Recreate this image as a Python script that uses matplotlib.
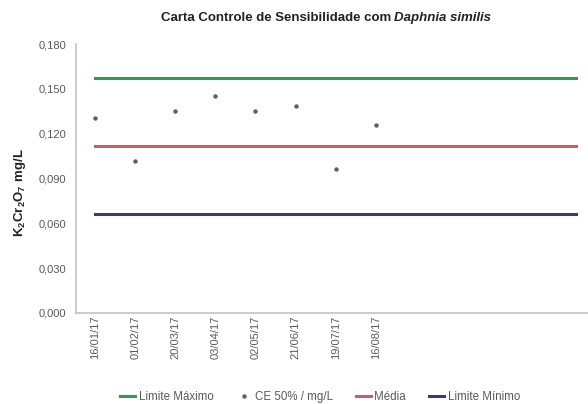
import matplotlib
matplotlib.use("Agg")
import matplotlib.pyplot as plt
from matplotlib.ticker import FuncFormatter

plt.rcParams['font.family'] = ['Liberation Sans', 'DejaVu Sans']
plt.rcParams['mathtext.fontset'] = 'custom'
plt.rcParams['mathtext.rm'] = 'Liberation Sans'
plt.rcParams['mathtext.bf'] = 'Liberation Sans:bold'

# categories (last five are empty slots of the Excel chart)
datas = ["16/01/17", "01/02/17", "20/03/17", "03/04/17", "02/05/17",
         "21/06/17", "19/07/17", "16/08/17", "", "", "", "", ""]
ce50 = [0.1305, 0.102, 0.135, 0.145, 0.135, 0.1385, 0.0965, 0.1255]
limite_maximo = [0.157, 0.157, 0.157, 0.157, 0.157, 0.157, 0.157,
                 0.157, 0.157, 0.157, 0.157, 0.157, 0.157]
media = [0.112, 0.112, 0.112, 0.112, 0.112, 0.112, 0.112,
         0.112, 0.112, 0.112, 0.112, 0.112, 0.112]
limite_minimo = [0.066, 0.066, 0.066, 0.066, 0.066, 0.066, 0.066,
                 0.066, 0.066, 0.066, 0.066, 0.066, 0.066]

c_max = "#3f8f5f"
c_med = "#c0606a"
c_min = "#3b3b74"
c_pts = "#606060"
grey = "#595959"

fig = plt.figure(figsize=(5.88, 4.04), dpi=100)
ax = fig.add_axes([76 / 588, 91 / 404, 1 - 76 / 588, 269 / 404])

x_all = list(range(len(datas)))
ax.plot(x_all, limite_maximo, color=c_max, lw=2.2, label="Limite Máximo")
ax.plot(range(len(ce50)), ce50, ls="none", marker="o", ms=2.2,
        color=c_pts, label="CE 50% / mg/L")
ax.plot(x_all, media, color=c_med, lw=2.2, label="Média")
ax.plot(x_all, limite_minimo, color=c_min, lw=2.2, label="Limite Mínimo")

ax.set_ylim(0, 0.18)
ax.set_yticks([0, 0.03, 0.06, 0.09, 0.12, 0.15, 0.18])
ax.yaxis.set_major_formatter(FuncFormatter(lambda v, p: f"{v:.3f}".replace(".", ",")))
ax.set_xlim(-0.48, 12.3)
ax.set_xticks(x_all)
ax.set_xticklabels(datas, rotation=90)

ax.tick_params(length=0, colors=grey, labelsize=8)
ax.tick_params(axis="y", pad=7)
ax.tick_params(axis="x", pad=2)
for s in ["top", "right"]:
    ax.spines[s].set_visible(False)
for s in ["left", "bottom"]:
    ax.spines[s].set_color("#c8c8c8")
    ax.spines[s].set_linewidth(1.3)

fig.text(20 / 588, 1 - 192 / 404, r"$\mathbf{K_2Cr_2O_7\ mg/L}$",
         rotation=90, ha="center", va="center", fontsize=9.5, color="#222222")

# title: bold part + bold italic part
renderer = fig.canvas.get_renderer()
t1 = fig.text(0, 1 - 18 / 404, "Carta Controle de Sensibilidade com ",
              fontsize=9.5, fontweight="bold", va="center", color="#222222")
t2 = fig.text(0, 1 - 18 / 404, "Daphnia similis", fontsize=9.5,
              fontweight="bold", style="italic", va="center", color="#222222")
w1 = t1.get_window_extent(renderer).width
w2 = t2.get_window_extent(renderer).width
x0 = 326 - (w1 + w2) / 2
t1.set_x(x0 / 588)
t2.set_x((x0 + w1) / 588)

fig.legend(loc="center", bbox_to_anchor=(320 / 588, 1 - 397 / 404), ncol=4,
           frameon=False, fontsize=8.3, handlelength=1.3, handletextpad=0.3,
           columnspacing=2.0, labelcolor=grey)

fig.savefig("out.png", dpi=100)
